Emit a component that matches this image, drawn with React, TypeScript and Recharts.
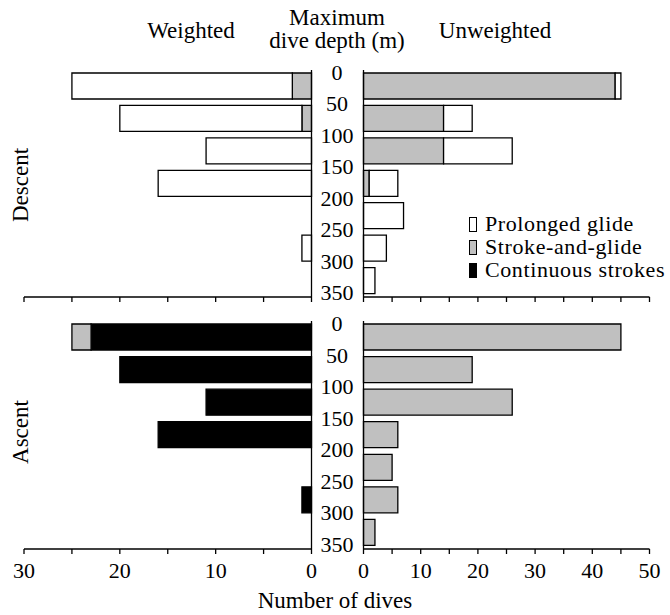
import React from 'react';
import { BarChart, Bar, XAxis, YAxis, Legend } from 'recharts';

// Depth classes (m), top to bottom
const depthBins = ['0-50', '50-100', '100-150', '150-200', '200-250', '250-300', '300-350'];
const depthTicks = [0, 50, 100, 150, 200, 250, 300, 350];

// Number of dives per swimming mode and depth class
const descentWeightedProlonged = [23, 19, 11, 16, 0, 1, 0];
const descentWeightedStrokeGlide = [2, 1, 0, 0, 0, 0, 0];
const descentWeightedContinuous = [0, 0, 0, 0, 0, 0, 0];

const descentUnweightedProlonged = [1, 5, 12, 5, 7, 4, 2];
const descentUnweightedStrokeGlide = [44, 14, 14, 1, 0, 0, 0];
const descentUnweightedContinuous = [0, 0, 0, 0, 0, 0, 0];

const ascentWeightedProlonged = [0, 0, 0, 0, 0, 0, 0];
const ascentWeightedStrokeGlide = [2, 0, 0, 0, 0, 0, 0];
const ascentWeightedContinuous = [23, 20, 11, 16, 0, 1, 0];

const ascentUnweightedProlonged = [0, 0, 0, 0, 0, 0, 0];
const ascentUnweightedStrokeGlide = [45, 19, 26, 6, 5, 6, 2];
const ascentUnweightedContinuous = [0, 0, 0, 0, 0, 0, 0];

const weightedTicks = [0, 5, 10, 15, 20, 25, 30];
const unweightedTicks = [0, 5, 10, 15, 20, 25, 30, 35, 40, 45, 50];

// Stack order: nearest the depth axis first
const series = [
  { key: 'continuous', name: 'Continuous strokes', fill: '#000000' },
  { key: 'strokeGlide', name: 'Stroke-and-glide', fill: '#c0c0c0' },
  { key: 'prolonged', name: 'Prolonged glide', fill: '#ffffff' },
];
const legendOrder = ['prolonged', 'strokeGlide', 'continuous'];

const buildRows = (prolonged: number[], strokeGlide: number[], continuous: number[]) =>
  depthBins.map((bin, i) => ({
    bin,
    prolonged: prolonged[i],
    strokeGlide: strokeGlide[i],
    continuous: continuous[i],
  }));

const descentWeighted = buildRows(descentWeightedProlonged, descentWeightedStrokeGlide, descentWeightedContinuous);
const descentUnweighted = buildRows(descentUnweightedProlonged, descentUnweightedStrokeGlide, descentUnweightedContinuous);
const ascentWeighted = buildRows(ascentWeightedProlonged, ascentWeightedStrokeGlide, ascentWeightedContinuous);
const ascentUnweighted = buildRows(ascentUnweightedProlonged, ascentUnweightedStrokeGlide, ascentUnweightedContinuous);

const FONT = '"Liberation Serif", "Times New Roman", serif';
const TICK_FONT = 22;
const LABEL_X = 337;
const AXIS_STROKE = { stroke: '#000', strokeWidth: 1.3 };

const TOP_PLOT_H = 227;
const BOTTOM_PLOT_H = 228;

// Depth labels sit on the class boundaries between the two halves
function makeDepthTick(plotH: number) {
  const n = depthBins.length;
  const band = plotH / n;
  const step = (plotH - 7) / n;
  return (props: any) => {
    const { y, index } = props;
    const top = y - band / 2 - index * band;
    const label = (k: number) => (
      <text
        key={k}
        x={LABEL_X}
        y={top + 2.5 + k * step}
        dy={7.5}
        textAnchor="middle"
        fontSize={TICK_FONT}
        fill="#000"
        style={{ fontFamily: FONT }}
      >
        {depthTicks[k]}
      </text>
    );
    return (
      <g>
        {label(index)}
        {index === n - 1 ? label(index + 1) : null}
      </g>
    );
  };
}

const bottomFormatter = (v: number) => (v % 10 === 0 ? String(v) : '');
const blankFormatter = () => '';

function LegendContent(props: any) {
  const payload: any[] = props.payload || [];
  const items = legendOrder.map((k) => {
    const s = series.find((d) => d.key === k)!;
    const p = payload.find((e) => e.dataKey === k);
    return { name: p ? p.value : s.name, fill: s.fill };
  });
  return (
    <div style={{ fontFamily: FONT, whiteSpace: 'nowrap' }}>
      {items.map((it) => (
        <div key={it.name} style={{ display: 'flex', alignItems: 'center', height: 23 }}>
          <span
            style={{
              display: 'inline-block',
              flex: 'none',
              width: 8,
              height: 15,
              boxSizing: 'border-box',
              border: '1.3px solid #000',
              background: it.fill,
              marginRight: 8,
              position: 'relative',
              top: 1,
            }}
          />
          <span
            style={{ fontSize: 22, lineHeight: '23px', letterSpacing: 0.6, color: '#000', fontFamily: FONT }}
          >
            {it.name}
          </span>
        </div>
      ))}
    </div>
  );
}

type PanelProps = {
  data: any[];
  side: 'left' | 'right';
  bottom: boolean;
  legend?: boolean;
};

function Panel({ data, side, bottom, legend }: PanelProps) {
  const plotH = bottom ? BOTTOM_PLOT_H : TOP_PLOT_H;
  const marginTop = bottom ? 21 : 70;
  const height = bottom ? 315 : 310;
  const xAxisH = height - marginTop - plotH;
  const isLeft = side === 'left';
  const width = isLeft ? 362 : 370;
  const style: React.CSSProperties = {
    position: 'absolute',
    left: isLeft ? 0 : 300,
    top: bottom ? 300 : 0,
    width,
    height,
  };
  return (
    <div style={style}>
      <BarChart
        width={width}
        height={height}
        data={data}
        layout="vertical"
        margin={
          isLeft
            ? { top: marginTop, left: 24, right: 0, bottom: 0 }
            : { top: marginTop, left: 0, right: 20.5, bottom: 0 }
        }
        barSize={26}
      >
        <XAxis
          type="number"
          domain={isLeft ? [0, 30] : [0, 50]}
          ticks={isLeft ? weightedTicks : unweightedTicks}
          interval={0}
          reversed={isLeft}
          height={xAxisH}
          axisLine={AXIS_STROKE}
          tickLine={AXIS_STROKE}
          tickSize={5}
          tickMargin={8}
          tickFormatter={bottom ? bottomFormatter : blankFormatter}
          tick={{ fontSize: TICK_FONT, fill: '#000', fontFamily: FONT, style: { fontFamily: FONT } }}
        />
        {isLeft ? (
          <YAxis
            type="category"
            dataKey="bin"
            orientation="right"
            width={362 - 311.5}
            interval={0}
            axisLine={AXIS_STROKE}
            tickLine={false}
            tick={makeDepthTick(plotH)}
          />
        ) : (
          <YAxis
            type="category"
            dataKey="bin"
            orientation="left"
            width={63.5}
            interval={0}
            axisLine={AXIS_STROKE}
            tickLine={false}
            tick={false}
          />
        )}
        {series.map((s) => (
          <Bar
            key={s.key}
            dataKey={s.key}
            name={s.name}
            stackId="mode"
            fill={s.fill}
            stroke="#000"
            strokeWidth={1.3}
            isAnimationActive={false}
          />
        ))}
        {legend ? (
          <Legend
            layout="vertical"
            align="center"
            verticalAlign="middle"
            content={<LegendContent />}
            wrapperStyle={{ left: 169, top: 212, width: 200, height: 'auto' }}
          />
        ) : null}
      </BarChart>
    </div>
  );
}

export default function App() {
  return (
    <div
      style={{
        position: 'absolute',
        left: 0,
        top: 0,
        width: 670,
        height: 615,
        background: '#fff',
        overflow: 'hidden',
        fontFamily: FONT,
      }}
    >
      <Panel data={descentWeighted} side="left" bottom={false} />
      <Panel data={descentUnweighted} side="right" bottom={false} legend />
      <Panel data={ascentWeighted} side="left" bottom />
      <Panel data={ascentUnweighted} side="right" bottom />
      <svg
        width={670}
        height={615}
        style={{ position: 'absolute', left: 0, top: 0, pointerEvents: 'none', fontFamily: FONT }}
        fill="#000"
      >
        <text x={191} y={37.5} fontSize={23} textAnchor="middle">Weighted</text>
        <text x={495} y={37.5} fontSize={23} textAnchor="middle">Unweighted</text>
        <text x={337} y={25} fontSize={23} textAnchor="middle">Maximum</text>
        <text x={337} y={48} fontSize={23} textAnchor="middle">dive depth (m)</text>
        <text transform="translate(28,185) rotate(-90)" fontSize={23} textAnchor="middle">Descent</text>
        <text transform="translate(28,432) rotate(-90)" fontSize={23} textAnchor="middle">Ascent</text>
        <text x={335} y={608} fontSize={23} textAnchor="middle">Number of dives</text>
      </svg>
    </div>
  );
}
